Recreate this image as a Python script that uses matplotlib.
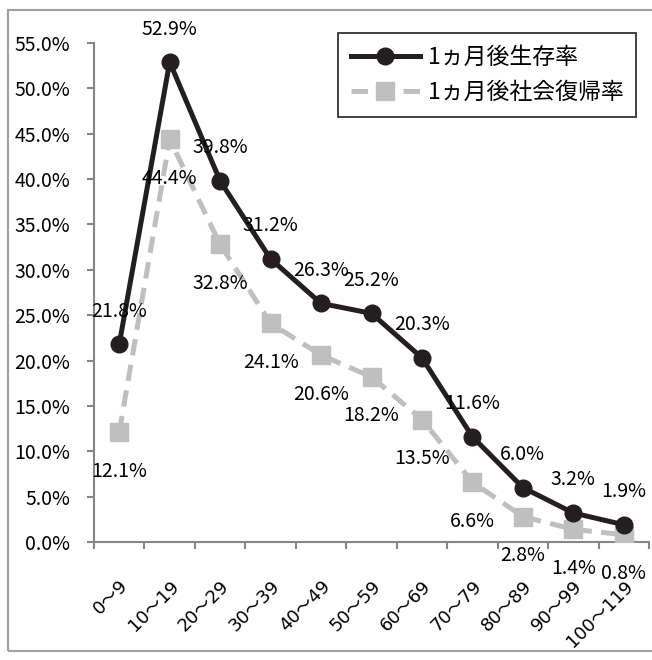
import matplotlib
matplotlib.use('Agg')
import matplotlib.pyplot as plt
from matplotlib.patches import Rectangle
from matplotlib.ticker import FuncFormatter

plt.rcParams['font.family'] = ['Noto Sans CJK JP', 'DejaVu Sans']

# データ
age_groups = ['0～9', '10～19', '20～29', '30～39', '40～49', '50～59',
              '60～69', '70～79', '80～89', '90～99', '100～119']
survival = [21.8, 52.9, 39.8, 31.2, 26.3, 25.2, 20.3, 11.6, 6.0, 3.2, 1.9]
social_return = [12.1, 44.4, 32.8, 24.1, 20.6, 18.2, 13.5, 6.6, 2.8, 1.4, 0.8]
series_names = ['1ヵ月後生存率', '1ヵ月後社会復帰率']
y_ticks = [0, 5, 10, 15, 20, 25, 30, 35, 40, 45, 50, 55]

W, H = 652, 660
fig = plt.figure(figsize=(W / 100, H / 100), dpi=100)
ax = fig.add_axes([94 / W, 1 - 542 / H, (649 - 94) / W, (542 - 43) / H])

x = list(range(len(age_groups)))
black = '#231f20'
gray = '#bfbfbf'

ax.plot(x, survival, color=black, lw=3.6, marker='o', ms=12,
        label=series_names[0], zorder=4)
ax.plot(x, social_return, color=gray, lw=3.6, ls=(0, (3.3, 1.9)),
        marker='s', ms=13, label=series_names[1], zorder=3)

# データラベル
for i in x:
    ax.annotate('%.1f%%' % survival[i], (i, survival[i]), xytext=(0, 33),
                textcoords='offset pixels', ha='center', va='center',
                fontsize=14, color='black', zorder=6)
    ax.annotate('%.1f%%' % social_return[i], (i, social_return[i]), xytext=(0, -39),
                textcoords='offset pixels', ha='center', va='center',
                fontsize=14, color='black', zorder=6)

ax.set_xlim(-0.5, len(age_groups) - 0.5)
ax.set_ylim(0, 55)
ax.set_yticks(y_ticks)
ax.yaxis.set_major_formatter(FuncFormatter(lambda v, p: '%.1f%%' % v))

ax.set_xticks(x)
ax.set_xticklabels(age_groups, rotation=45, ha='right', va='top',
                   rotation_mode='anchor', family=['DejaVu Sans', 'Noto Sans CJK JP'],
                   fontsize=13)
ax.set_xticks([i - 0.5 for i in range(len(age_groups) + 1)], minor=True)
ax.tick_params(axis='x', which='major', length=0, pad=25)
ax.tick_params(axis='x', which='minor', length=5, width=1.5, color='#868686')
ax.tick_params(axis='y', length=5, width=1.5, color='#868686', pad=12, labelsize=14)

for s in ['top', 'right']:
    ax.spines[s].set_visible(False)
for s in ['left', 'bottom']:
    ax.spines[s].set_color('#868686')
    ax.spines[s].set_linewidth(1.5)

leg = fig.legend(loc='upper right', bbox_to_anchor=(636 / W, 1 - 33 / H),
                 bbox_transform=fig.transFigure, borderaxespad=0,
                 fontsize=16.5, frameon=True, fancybox=False,
                 handlelength=3.0, labelspacing=0.55, borderpad=0.55,
                 handletextpad=0.35)
leg.get_frame().set_edgecolor('black')
leg.get_frame().set_linewidth(1.3)

# 外枠
fig.patches.append(Rectangle((8 / W, 1 - 651 / H), 1, (651 - 10) / H,
                             transform=fig.transFigure, fill=False,
                             edgecolor='#a0a0a0', lw=1.5))

fig.savefig('out.png', dpi=100)
